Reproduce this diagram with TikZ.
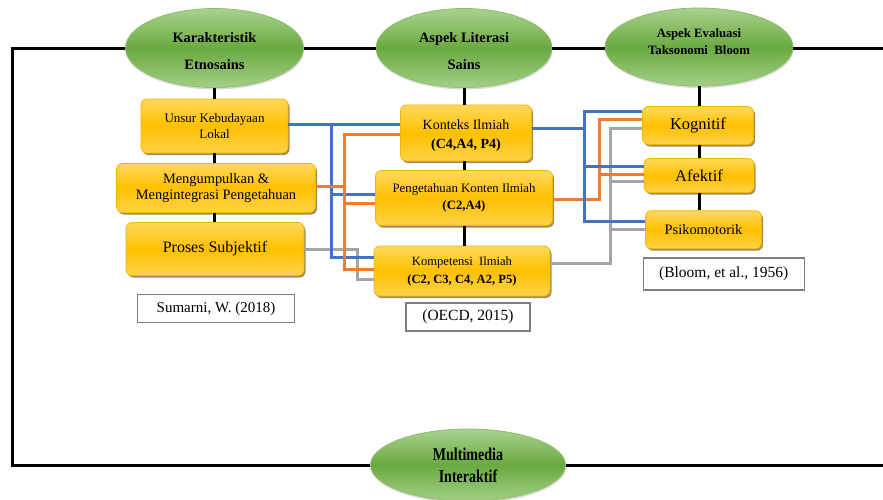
\documentclass[tikz,border=0pt]{standalone}
\usepackage{fontspec}
\setmainfont{Liberation Serif}
\usetikzlibrary{shapes.geometric,shadows}
\definecolor{gtop}{HTML}{A9D18E}
\definecolor{gmid}{HTML}{6AAA40}
\definecolor{gbot}{HTML}{A3CF86}
\definecolor{gedge}{HTML}{8DBF6B}
\definecolor{ytop}{HTML}{FFD95C}
\definecolor{ymid}{HTML}{FFC000}
\definecolor{ybot}{HTML}{FFD34A}
\definecolor{yedge}{HTML}{F2B600}
\definecolor{cblue}{HTML}{4472C4}
\definecolor{corange}{HTML}{ED7D31}
\definecolor{cgray}{HTML}{A5A5A5}
\definecolor{refedge}{HTML}{7F7F7F}
\definecolor{shad}{HTML}{7A5A10}
\begin{document}
\begin{tikzpicture}[x=1pt,y=-1pt,
 oval/.style={ellipse, draw=gedge, line width=0.8pt, top color=gtop, bottom color=gbot, middle color=gmid, inner sep=0pt, align=center, drop shadow={shadow xshift=0.5pt, shadow yshift=-2pt, opacity=0.3}},
 ybox/.style={rectangle, rounded corners=6pt, draw=yedge, line width=0.8pt, top color=ytop, bottom color=ybot, middle color=ymid, inner sep=0pt, align=center, drop shadow={shadow xshift=1.5pt, shadow yshift=-2pt, fill=shad, opacity=0.7}},
 refbox/.style={rectangle, draw=refedge, line width=1.2pt, fill=white, inner sep=0pt, align=center},
 blk/.style={line width=3pt, black},
 cb/.style={line width=3pt, cblue},
 co/.style={line width=3pt, corange},
 cg/.style={line width=3pt, cgray}
]
\useasboundingbox (0,0) rectangle (883,499);

% ellipses
\node[oval, minimum width=178pt, minimum height=79pt, font=\fontsize{14.4}{27}\selectfont\bfseries] (kar) at (214.5,48) {\rule{0pt}{16pt}Karakteristik\\Etnosains};
\node[oval, minimum width=176pt, minimum height=79pt, font=\fontsize{14.4}{27}\selectfont\bfseries] (lit) at (464,48) {\rule{0pt}{16pt}Aspek Literasi\\Sains};
\node[oval, minimum width=188pt, minimum height=78pt, font=\fontsize{12.8}{17}\selectfont\bfseries] (bloom) at (699,47) {Aspek Evaluasi\\Taksonomi~~Bloom\rule[-11pt]{0pt}{0pt}};
\node[oval, minimum width=195pt, minimum height=72pt, font=\fontsize{18}{22}\selectfont\bfseries] (mm) at (468,465) {\scalebox{0.78}[1]{Multimedia}\\\scalebox{0.78}[1]{Interaktif}};

% left column
\node[ybox, minimum width=147pt, minimum height=54pt, font=\fontsize{13}{16}\selectfont] (unsur) at (214.5,126) {Unsur Kebudayaan\\Lokal};
\node[ybox, minimum width=199pt, minimum height=49pt, font=\fontsize{14.4}{16}\selectfont] (meng) at (216,188) {Mengumpulkan \&\\Mengintegrasi Pengetahuan};
\node[ybox, minimum width=178pt, minimum height=53pt, font=\fontsize{16}{18}\selectfont] (proses) at (215,249) {Proses Subjektif};
\node[refbox, minimum width=157pt, minimum height=28pt, font=\fontsize{15}{17}\selectfont] (sumarni) at (216,308.5) {Sumarni, W. (2018)};

% middle column
\node[ybox, minimum width=131pt, minimum height=56pt, font=\fontsize{14}{19}\selectfont] (konteks) at (466,133) {\rule{0pt}{14pt}Konteks Ilmiah\\\textbf{(C4,A4, P4)}};
\node[ybox, minimum width=177pt, minimum height=55pt, font=\fontsize{12.8}{17}\selectfont] (peng) at (464,198) {Pengetahuan Konten Ilmiah\\\textbf{(C2,A4)}};
\node[ybox, minimum width=176pt, minimum height=50pt, font=\fontsize{12.6}{18}\selectfont] (komp) at (462,271) {Kompetensi~~Ilmiah\\\textbf{(C2, C3, C4, A2, P5)}};
\node[refbox, minimum width=124pt, minimum height=28pt, font=\fontsize{15.5}{17}\selectfont] (oecd) at (468,317) {(OECD, 2015)};

% right column
\node[ybox, minimum width=111pt, minimum height=38pt, font=\fontsize{16.5}{18}\selectfont] (kog) at (698,125.5) {Kognitif};
\node[ybox, minimum width=110pt, minimum height=34pt, font=\fontsize{16.5}{18}\selectfont] (afek) at (699,175.5) {Afektif};
\node[ybox, minimum width=116pt, minimum height=38pt, font=\fontsize{14.4}{17}\selectfont] (psiko) at (703.5,229.7) {Psikomotorik};
\node[refbox, minimum width=161pt, minimum height=32pt, font=\fontsize{15.5}{17}\selectfont] (bloomref) at (723.7,274) {(Bloom, et al., 1956)};

% frame
\coordinate (tl) at (12,48);
\coordinate (tr) at (883,48);
\coordinate (bl) at (12,465);
\coordinate (br) at (883,465);
\draw[blk] (kar.west) -- (tl) -- (bl) -- (mm.west);
\draw[blk] (mm.east) -- (br);
\draw[blk] (kar.east) -- (lit.west);
\draw[blk] (lit.east) -- (lit.east -| bloom.west);
\draw[blk] (lit.east -| bloom.east) -- (tr);

% vertical black
\draw[blk] (kar.south) -- (unsur.north);
\draw[blk] (unsur.south) -- (unsur.south |- meng.north);
\draw[blk] (unsur.south |- meng.south) -- (unsur.south |- proses.north);
\draw[blk] (lit.south) -- (lit.south |- konteks.north);
\draw[blk] (lit.south |- konteks.south) -- (lit.south |- peng.north);
\draw[blk] (lit.south |- peng.south) -- (lit.south |- komp.north);
\draw[blk] (bloom.south) -- (bloom.south |- kog.north);
\draw[blk] (bloom.south |- kog.south) -- (bloom.south |- afek.north);
\draw[blk] (bloom.south |- afek.south) -- (bloom.south |- psiko.north);

% colour routing columns
\coordinate (bx1) at (331,0);
\coordinate (ox1) at (344,0);
\coordinate (gx1) at (357,0);
\coordinate (bx2) at (584,0);
\coordinate (ox2) at (599,0);
\coordinate (gx2) at (610,0);

% left group
\draw[cg] (proses.east) -- (proses.east -| gx1) -- ([yshift=-8pt]komp.west -| gx1) -- ([yshift=-8pt]komp.west);
\draw[cb] ([yshift=1.5pt]unsur.east) -- ([yshift=1.5pt]unsur.east -| konteks.west);
\draw[cb] ([yshift=1.5pt]unsur.east -| bx1) -- ([yshift=14pt]komp.west -| bx1) -- ([yshift=14pt]komp.west);
\draw[cb] ([yshift=4pt]peng.west -| bx1) -- ([yshift=4pt]peng.west);
\draw[co] ([yshift=-1pt]konteks.west) -- ([yshift=-1pt]konteks.west -| ox1) -- ([yshift=2pt]komp.west -| ox1) -- ([yshift=2pt]komp.west);
\draw[co] ([yshift=2pt]meng.east) -- ([yshift=2pt]meng.east -| ox1);
\draw[co] ([yshift=-5pt]peng.west -| ox1) -- ([yshift=-5pt]peng.west);

% right group
\draw[cg] ([yshift=8pt]komp.east) -- ([yshift=8pt]komp.east -| gx2) -- ([yshift=-2.8pt]kog.west -| gx2) -- ([yshift=-2.8pt]kog.west);
\draw[cg] ([yshift=-5.5pt]afek.west -| gx2) -- ([yshift=-5.5pt]afek.west);
\draw[cg] (psiko.west -| gx2) -- (psiko.west);
\draw[co] ([yshift=-1pt]peng.east) -- ([yshift=-1pt]peng.east -| ox2) -- ([yshift=6pt]kog.west -| ox2) -- ([yshift=6pt]kog.west);
\draw[co] ([yshift=1.2pt]afek.west -| ox2) -- ([yshift=1.2pt]afek.west);
\draw[cb] ([yshift=5pt]konteks.east) -- ([yshift=5pt]konteks.east -| bx2);
\draw[cb] ([yshift=14.5pt]kog.west) -- ([yshift=14.5pt]kog.west -| bx2) -- ([yshift=8.7pt]psiko.west -| bx2) -- ([yshift=8.7pt]psiko.west);
\draw[cb] ([yshift=9.5pt]afek.west -| bx2) -- ([yshift=9.5pt]afek.west);
\end{tikzpicture}
\end{document}
